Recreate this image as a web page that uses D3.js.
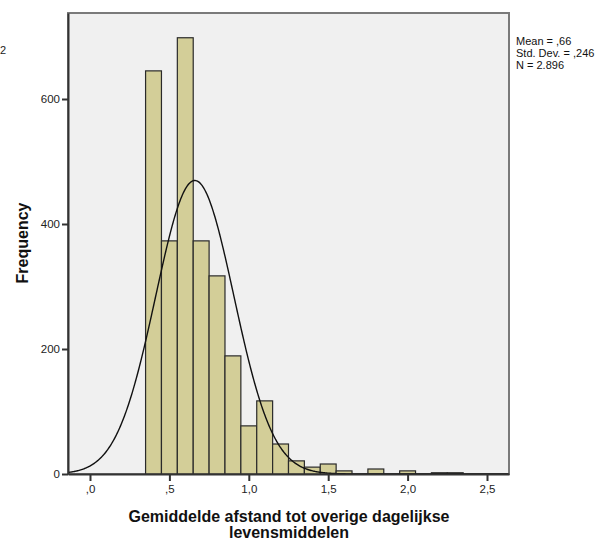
<!DOCTYPE html>
<html><head><meta charset="utf-8">
<script src="https://cdn.jsdelivr.net/npm/d3@7"></script>
<style>body{margin:0;background:#fff;}svg{display:block;font-family:Arial,"Liberation Sans",sans-serif;}</style>
</head><body>
<script>
const binStart = [0.35,0.45,0.55,0.65,0.75,0.85,0.95,1.05,1.15,1.25,1.35,1.45,1.55,1.65,1.75,1.85,1.95,2.05,2.15,2.25];
const binCounts = [645,373,698,373,317,189,77,117,48,21,11,16,5,0,8,0,5,0,2,2];
const binWidth = 0.1;
const xTicks = [0,0.5,1.0,1.5,2.0,2.5];
const xTickLabels = [",0",",5","1,0","1,5","2,0","2,5"];
const yTicks = [0,200,400,600];
const stats = ["Mean = ,66","Std. Dev. = ,246","N = 2.896"];
const mean = 0.66, sd = 0.246, N = 2896;

const W=610,H=543;
const L=68,T=13,R=509,B=474;
const svg=d3.select("body").append("svg").attr("width",W).attr("height",H);
const x=d3.scaleLinear().domain([-0.1385,2.6385]).range([L,R]);
const y=d3.scaleLinear().domain([0,737.6]).range([B,T]);

svg.append("rect").attr("x",L).attr("y",T).attr("width",R-L).attr("height",B-T)
  .attr("fill","#f0f0f0").attr("stroke","#7a7a7a").attr("stroke-width",2);

const data=binStart.map((s,i)=>({s,c:binCounts[i]})).filter(d=>d.c>0);
svg.append("g").selectAll("rect").data(data).join("rect")
  .attr("x",d=>x(d.s)).attr("y",d=>y(d.c))
  .attr("width",d=>x(d.s+binWidth)-x(d.s)).attr("height",d=>y(0)-y(d.c))
  .attr("fill","#d3ce98").attr("stroke","#2a2a2a").attr("stroke-width",1.2);

const pts=d3.range(x.domain()[0],x.domain()[1]+0.001,0.005);
const dens=v=>N*binWidth/(sd*Math.sqrt(2*Math.PI))*Math.exp(-0.5*((v-mean)/sd)**2);
svg.append("path").datum(pts)
  .attr("d",d3.line().x(v=>x(v)).y(v=>y(dens(v))))
  .attr("fill","none").attr("stroke","#111").attr("stroke-width",1.4);

// axes
const yAxis=svg.append("g").attr("transform",`translate(${L},0)`)
  .call(d3.axisLeft(y).tickValues(yTicks).tickSizeInner(6).tickSizeOuter(0).tickPadding(2).tickFormat(d3.format("d")));
const xAxis=svg.append("g").attr("transform",`translate(0,${B})`)
  .call(d3.axisBottom(x).tickValues(xTicks).tickSizeInner(7).tickSizeOuter(0).tickPadding(4).tickFormat((d,i)=>xTickLabels[i]));
[yAxis,xAxis].forEach(g=>{
  g.select(".domain").attr("stroke","#333").attr("stroke-width",2);
  g.selectAll(".tick line").attr("stroke","#333").attr("stroke-width",2);
  g.selectAll(".tick text").attr("fill","#222").attr("font-size",11.5).attr("font-family","Arial,'Liberation Sans',sans-serif");
});

svg.append("text").attr("x",0).attr("y",54).attr("font-size",11).attr("fill","#222").text("2");

svg.append("g").selectAll("text").data(stats).join("text")
  .attr("x",516).attr("y",(d,i)=>45+i*12).attr("font-size",11).attr("fill","#111").text(d=>d);

svg.append("text").attr("transform","translate(28,243) rotate(-90)").attr("text-anchor","middle")
  .attr("font-size",16).attr("font-weight","bold").attr("fill","#111").text("Frequency");
svg.append("text").attr("x",289).attr("y",522).attr("text-anchor","middle")
  .attr("font-size",16).attr("font-weight","bold").attr("fill","#111").text("Gemiddelde afstand tot overige dagelijkse");
svg.append("text").attr("x",289).attr("y",538).attr("text-anchor","middle")
  .attr("font-size",16).attr("font-weight","bold").attr("fill","#111").text("levensmiddelen");
</script>
</body></html>
